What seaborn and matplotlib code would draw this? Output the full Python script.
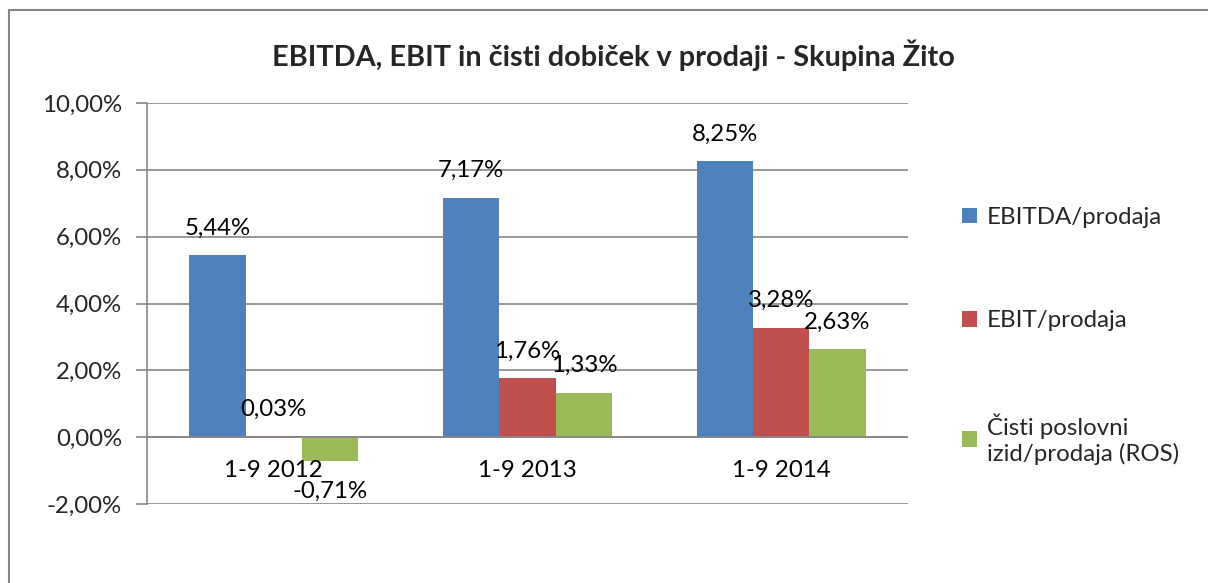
import matplotlib
matplotlib.use("Agg")
import matplotlib.pyplot as plt
import seaborn as sns
import pandas as pd
from matplotlib.patches import Rectangle

categories = ["1-9 2012", "1-9 2013", "1-9 2014"]
series = ["EBITDA/prodaja", "EBIT/prodaja", "Čisti poslovni\nizid/prodaja (ROS)"]
ebitda = [5.44, 7.17, 8.25]
ebit = [0.03, 1.76, 3.28]
ros = [-0.71, 1.33, 2.63]
yticks = [-2, 0, 2, 4, 6, 8, 10]
colors = ["#4F81BD", "#C0504D", "#9BBB59"]
title = "EBITDA, EBIT in čisti dobiček v prodaji - Skupina Žito"

rows = []
for s, vals in zip(series, [ebitda, ebit, ros]):
    for c, v in zip(categories, vals):
        rows.append({"cat": c, "series": s, "val": v})
df = pd.DataFrame(rows)

sns.set_theme(style="white")
plt.rcParams["font.family"] = ["Lato", "DejaVu Sans"]

FS = 17.3
W, H = 1208, 583
fig = plt.figure(figsize=(W / 100, H / 100), dpi=100)
fig.patch.set_facecolor("white")

# outer chart border (only left and top visible)
fig.add_artist(Rectangle((9 / W, -0.1), 1.2, (1 - 10 / H) + 0.1, transform=fig.transFigure,
                         fill=False, edgecolor="#868686", linewidth=1.5))

ax = fig.add_axes([147 / W, 1 - 504 / H, 761 / W, 401 / H])
sns.barplot(data=df, x="cat", y="val", hue="series", palette=colors, width=0.666,
            saturation=1, ax=ax, legend=True, zorder=3)
for p in ax.patches:
    p.set_edgecolor("none")

ax.set_xlim(-0.5, 2.5)
ax.set_ylim(-2, 10)
ax.set_yticks(yticks)
ax.set_yticklabels([f"{t:.2f}%".replace(".", ",") for t in yticks])
ax.yaxis.grid(True, color="#868686", linewidth=1.2, zorder=0)
ax.set_axisbelow(True)
ax.set_xlabel("")
ax.set_ylabel("")
for side in ["top", "right", "bottom"]:
    ax.spines[side].set_visible(False)
ax.spines["left"].set_color("#868686")
ax.spines["left"].set_linewidth(1.2)
ax.axhline(0, color="#868686", linewidth=1.2, zorder=4)
ax.tick_params(axis="y", length=8, width=1.2, color="#868686", labelsize=FS, pad=10, left=True)
ax.tick_params(axis="x", length=0)
ax.set_xticks(range(len(categories)))
ax.set_xticklabels([])
# category labels just below the zero line
for i, c in enumerate(categories):
    ax.annotate(c, xy=(i, 0), xytext=(0, -33), textcoords="offset pixels",
                ha="center", va="center", fontsize=FS, color="black")

for cont in ax.containers:
    labels = [f"{v:.2f}%".replace(".", ",") for v in cont.datavalues]
    for bar, lab, v in zip(cont, labels, cont.datavalues):
        x = bar.get_x() + bar.get_width() / 2
        off = 27 if v >= 0 else -30
        ax.annotate(lab, xy=(x, v), xytext=(0, off), textcoords="offset pixels",
                    ha="center", va="center", fontsize=FS, color="black", zorder=5)

leg = ax.legend(loc="upper left", bbox_to_anchor=((962 - 147) / 761, 1 - (207 - 103) / 401),
                frameon=False, fontsize=FS, handlelength=0.62, handleheight=0.62,
                handletextpad=0.4, labelspacing=3.42, borderaxespad=0, borderpad=0)

fig.text(613 / W, 1 - 55 / H, title, ha="center", va="center", fontsize=20.8, fontweight="bold")

fig.savefig("out.png", dpi=100)
